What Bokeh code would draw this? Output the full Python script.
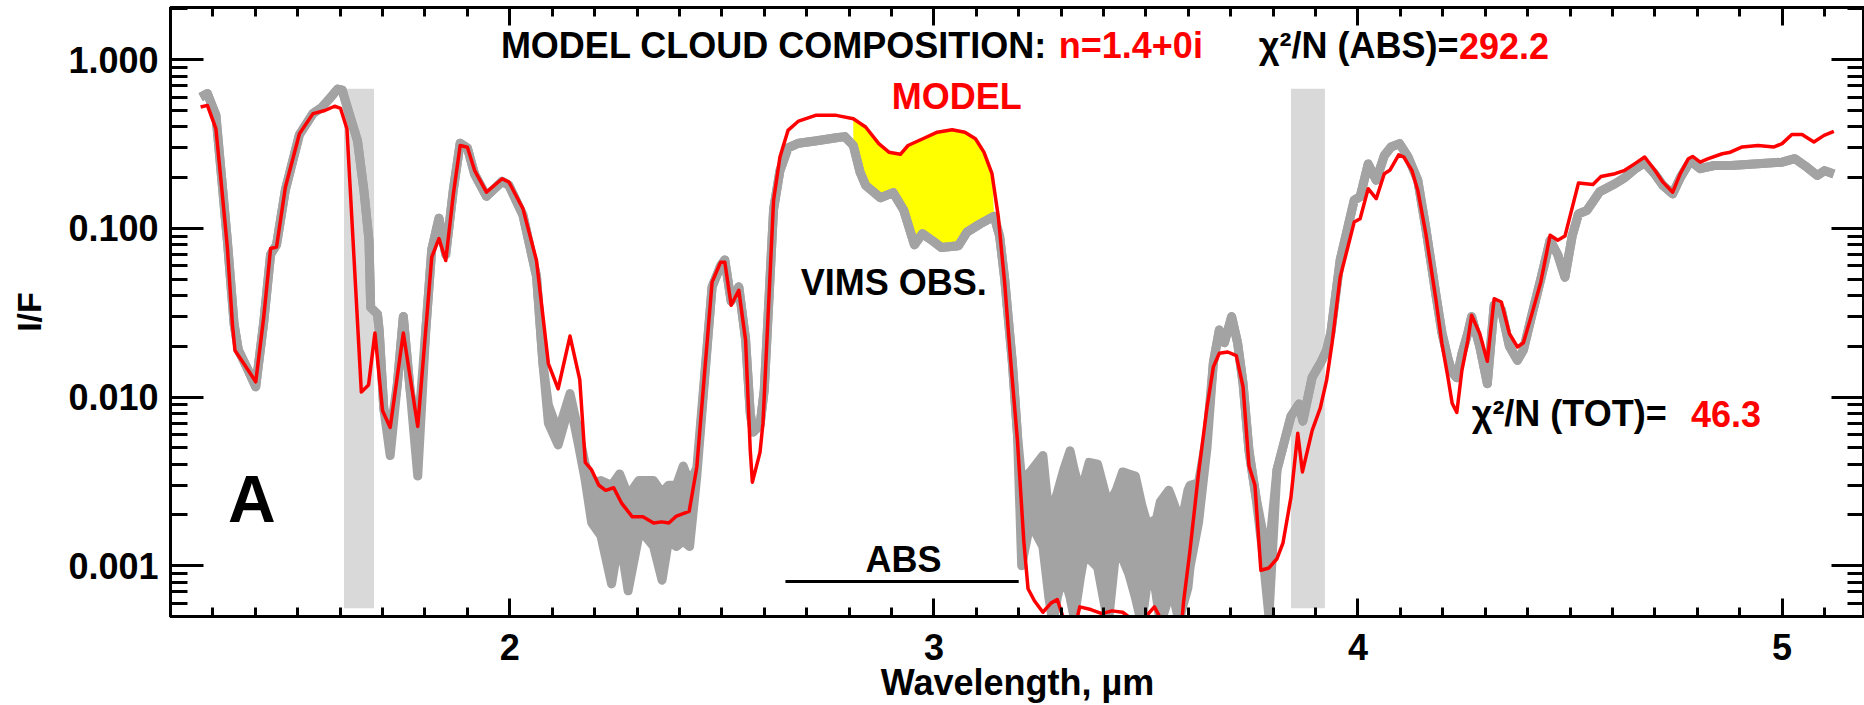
import numpy as np
from bokeh.plotting import figure
from bokeh.models import (Range1d, LinearAxis, LogAxis, FixedTicker,
                          CustomJSTickFormatter, Label)
from bokeh.embed import file_html
from bokeh.resources import INLINE

# ---------------- data ----------------
model_wl = [1.271, 1.287, 1.307, 1.319, 1.334, 1.346, 1.352, 1.375, 1.401, 1.420,
            1.436, 1.450, 1.471, 1.504, 1.536, 1.564, 1.587, 1.601, 1.616, 1.650,
            1.667, 1.682, 1.700, 1.718, 1.749, 1.783, 1.816, 1.833, 1.849, 1.867,
            1.883, 1.900, 1.917, 1.945, 1.982, 1.998, 2.031, 2.063, 2.091, 2.114,
            2.142, 2.165, 2.178, 2.193, 2.210, 2.226, 2.245, 2.264, 2.289, 2.314,
            2.339, 2.358, 2.375, 2.393, 2.423, 2.441, 2.477, 2.497, 2.507, 2.522,
            2.540, 2.556, 2.567, 2.572, 2.590, 2.597, 2.622, 2.637, 2.656, 2.681,
            2.721, 2.770, 2.810, 2.839, 2.870, 2.894, 2.921, 2.939, 2.974, 3.008,
            3.043, 3.073, 3.098, 3.118, 3.137, 3.152, 3.167, 3.181, 3.197, 3.212,
            3.222, 3.237, 3.257, 3.276, 3.291, 3.310, 3.336, 3.344, 3.370, 3.396,
            3.420, 3.445, 3.463, 3.500, 3.520, 3.536, 3.560, 3.584, 3.589, 3.603,
            3.624, 3.644, 3.659, 3.673, 3.693, 3.713, 3.729, 3.743, 3.757, 3.771,
            3.790, 3.809, 3.823, 3.842, 3.858, 3.869, 3.892, 3.911, 3.926, 3.939,
            3.958, 3.991, 4.005, 4.024, 4.043, 4.062, 4.075, 4.096, 4.108, 4.127,
            4.141, 4.160, 4.184, 4.198, 4.212, 4.222, 4.233, 4.245, 4.259, 4.268,
            4.287, 4.305, 4.321, 4.338, 4.357, 4.376, 4.390, 4.409, 4.431, 4.453,
            4.471, 4.488, 4.520, 4.554, 4.573, 4.606, 4.629, 4.653, 4.676, 4.700,
            4.719, 4.742, 4.760, 4.779, 4.789, 4.807, 4.826, 4.859, 4.878, 4.906,
            4.943, 4.981, 5.000, 5.023, 5.047, 5.075, 5.099, 5.122]
model_if = [0.524, 0.536, 0.39, 0.193, 0.0775, 0.027, 0.0189, 0.0155, 0.0123, 0.03,
            0.076, 0.0775, 0.176, 0.364, 0.479, 0.50, 0.53, 0.514, 0.39, 0.0107,
            0.0118, 0.024, 0.0083, 0.0066, 0.024, 0.0067, 0.0676, 0.087, 0.0645, 0.16,
            0.31, 0.303, 0.221, 0.164, 0.197, 0.188, 0.131, 0.0645, 0.0158, 0.0112,
            0.023, 0.0127, 0.0041, 0.0037, 0.0030, 0.0028, 0.0029, 0.00234, 0.00195, 0.00195,
            0.00179, 0.00182, 0.00179, 0.00197, 0.0021, 0.00385, 0.048, 0.063, 0.063, 0.035,
            0.043, 0.0217, 0.00483, 0.00313, 0.0047, 0.007, 0.1466, 0.265, 0.381, 0.433,
            0.468, 0.468, 0.447, 0.399, 0.318, 0.283, 0.275, 0.31, 0.34, 0.372,
            0.384, 0.372, 0.34, 0.283, 0.211, 0.1167, 0.047, 0.0165, 0.00553, 0.0014,
            0.00073, 0.00062, 0.00053, 0.0006, 0.00063, 0.00045, 0.00047, 0.00057, 0.00055, 0.00052,
            0.00054, 0.00053, 0.00049, 0.0005, 0.00057, 0.00048, 0.0004, 0.00045, 0.00062, 0.00118,
            0.00353, 0.0087, 0.0151, 0.0182, 0.0185, 0.0176, 0.0115, 0.0039, 0.0030, 0.00094,
            0.00097, 0.0011, 0.00136, 0.00255, 0.0061, 0.0036, 0.00635, 0.0086, 0.0126, 0.021,
            0.0514, 0.109, 0.114, 0.172, 0.15, 0.211, 0.221, 0.273, 0.265, 0.221,
            0.168, 0.093, 0.0374, 0.0207, 0.0131, 0.0092, 0.0081, 0.0144, 0.0217, 0.0305,
            0.0238, 0.0163, 0.0383, 0.0366, 0.0238, 0.0198, 0.021, 0.0305, 0.048, 0.091,
            0.085, 0.09, 0.186, 0.182, 0.203, 0.211, 0.221, 0.242, 0.265, 0.221,
            0.188, 0.164, 0.211, 0.259, 0.267, 0.247, 0.259, 0.277, 0.283, 0.304,
            0.31, 0.304, 0.318, 0.36, 0.36, 0.325, 0.356, 0.376]

obs_wl = [1.271, 1.287, 1.307, 1.319, 1.334, 1.350, 1.360, 1.380, 1.401, 1.420,
          1.436, 1.450, 1.471, 1.504, 1.536, 1.556, 1.578, 1.594, 1.605, 1.617,
          1.641, 1.656, 1.668, 1.672, 1.688, 1.692, 1.703, 1.718, 1.735, 1.749,
          1.765, 1.783, 1.802, 1.816, 1.833, 1.849, 1.867, 1.883, 1.900, 1.917,
          1.945, 1.982, 1.998, 2.031, 2.063, 2.078, 2.091, 2.114, 2.142, 2.162,
          2.178, 2.193, 2.215, 2.240, 2.259, 2.279, 2.304, 2.319, 2.339, 2.359,
          2.374, 2.393, 2.409, 2.424, 2.441, 2.477, 2.497, 2.507, 2.522, 2.540,
          2.556, 2.567, 2.574, 2.590, 2.600, 2.622, 2.637, 2.656, 2.681, 2.720,
          2.770, 2.790, 2.810, 2.826, 2.839, 2.874, 2.904, 2.929, 2.954, 2.973,
          2.998, 3.018, 3.058, 3.078, 3.108, 3.142, 3.155, 3.167, 3.185, 3.197,
          3.207, 3.227, 3.257, 3.271, 3.281, 3.291, 3.306, 3.321, 3.331, 3.346,
          3.356, 3.366, 3.386, 3.411, 3.430, 3.445, 3.460, 3.475, 3.490, 3.505,
          3.510, 3.525, 3.534, 3.554, 3.559, 3.579, 3.584, 3.599, 3.604, 3.624,
          3.644, 3.659, 3.673, 3.685, 3.702, 3.716, 3.729, 3.743, 3.759, 3.775,
          3.790, 3.809, 3.842, 3.861, 3.870, 3.892, 3.911, 3.926, 3.936, 3.958,
          3.991, 4.005, 4.024, 4.043, 4.062, 4.078, 4.098, 4.118, 4.141, 4.160,
          4.184, 4.198, 4.212, 4.222, 4.233, 4.245, 4.259, 4.268, 4.287, 4.305,
          4.321, 4.338, 4.357, 4.376, 4.390, 4.409, 4.431, 4.453, 4.471, 4.488,
          4.505, 4.520, 4.540, 4.570, 4.606, 4.629, 4.653, 4.676, 4.700, 4.719,
          4.742, 4.760, 4.779, 4.789, 4.807, 4.840, 4.880, 4.943, 5.000, 5.030,
          5.060, 5.083, 5.100, 5.122]
obs_lo = [0.60, 0.63, 0.47, 0.22, 0.085, 0.027, 0.019, 0.015, 0.0115, 0.028,
          0.070, 0.080, 0.170, 0.360, 0.480, 0.520, 0.600, 0.670, 0.660, 0.520,
          0.330, 0.168, 0.085, 0.034, 0.031, 0.025, 0.0085, 0.0045, 0.012, 0.030,
          0.011, 0.0034, 0.025, 0.075, 0.115, 0.070, 0.170, 0.320, 0.300, 0.210,
          0.155, 0.190, 0.180, 0.120, 0.052, 0.016, 0.0070, 0.0052, 0.0092, 0.0052,
          0.0032, 0.0018, 0.0015, 0.00078, 0.0015, 0.00071, 0.0015, 0.0015, 0.0013, 0.00082,
          0.0014, 0.0013, 0.0014, 0.0013, 0.0034, 0.045, 0.060, 0.065, 0.037, 0.045,
          0.022, 0.008, 0.0062, 0.0068, 0.011, 0.13, 0.22, 0.30, 0.32, 0.33,
          0.345, 0.350, 0.310, 0.215, 0.180, 0.152, 0.163, 0.128, 0.080, 0.093,
          0.084, 0.077, 0.079, 0.095, 0.106, 0.118, 0.090, 0.050, 0.016, 0.0060,
          0.0010, 0.0018, 0.0013, 0.00065, 0.00045, 0.00065, 0.00089, 0.00065, 0.00049, 0.00087,
          0.0012, 0.0011, 0.00098, 0.00045, 0.0013, 0.0011, 0.00089, 0.00065, 0.00045, 0.00087,
          0.0012, 0.00065, 0.00045, 0.00065, 0.00077, 0.00045, 0.00054, 0.00074, 0.00098, 0.0018,
          0.0050, 0.016, 0.025, 0.021, 0.030, 0.021, 0.012, 0.0048, 0.0026, 0.0012,
          0.0005, 0.0037, 0.0077, 0.0091, 0.0072, 0.0131, 0.0158, 0.019, 0.024, 0.065,
          0.147, 0.154, 0.241, 0.193, 0.27, 0.304, 0.318, 0.265, 0.193, 0.10,
          0.040, 0.024, 0.017, 0.014, 0.013, 0.018, 0.024, 0.030, 0.020, 0.012,
          0.035, 0.033, 0.020, 0.0165, 0.019, 0.030, 0.050, 0.085, 0.070, 0.0514,
          0.090, 0.122, 0.128, 0.165, 0.184, 0.200, 0.225, 0.245, 0.210, 0.180,
          0.160, 0.200, 0.240, 0.245, 0.226, 0.236, 0.236, 0.242, 0.247, 0.259,
          0.229, 0.206, 0.220, 0.210]
obs_hi = [0.60, 0.63, 0.47, 0.22, 0.085, 0.027, 0.019, 0.015, 0.0115, 0.028,
          0.070, 0.080, 0.170, 0.360, 0.480, 0.520, 0.600, 0.670, 0.660, 0.520,
          0.330, 0.168, 0.085, 0.034, 0.031, 0.025, 0.0085, 0.0060, 0.012, 0.030,
          0.011, 0.0060, 0.025, 0.075, 0.115, 0.070, 0.170, 0.320, 0.300, 0.210,
          0.155, 0.190, 0.180, 0.120, 0.052, 0.016, 0.0090, 0.0062, 0.0105, 0.0062,
          0.0040, 0.0031, 0.0032, 0.0030, 0.0035, 0.0026, 0.0032, 0.0032, 0.0032, 0.0027,
          0.0030, 0.0030, 0.0039, 0.0031, 0.0038, 0.045, 0.060, 0.065, 0.037, 0.045,
          0.022, 0.008, 0.0062, 0.0068, 0.011, 0.13, 0.22, 0.30, 0.32, 0.33,
          0.345, 0.350, 0.310, 0.215, 0.180, 0.152, 0.163, 0.128, 0.080, 0.093,
          0.084, 0.077, 0.079, 0.095, 0.106, 0.118, 0.090, 0.050, 0.016, 0.0060,
          0.0032, 0.0036, 0.0045, 0.0020, 0.0023, 0.0027, 0.0037, 0.0048, 0.0037, 0.0027,
          0.0033, 0.0041, 0.0040, 0.0023, 0.0028, 0.0036, 0.0035, 0.0034, 0.0023, 0.0017,
          0.0018, 0.0019, 0.0024, 0.0028, 0.0026, 0.0019, 0.0018, 0.0028, 0.0030, 0.0031,
          0.0060, 0.016, 0.025, 0.021, 0.030, 0.021, 0.012, 0.0048, 0.0026, 0.0016,
          0.0012, 0.0037, 0.0077, 0.0091, 0.0072, 0.0131, 0.0158, 0.019, 0.024, 0.065,
          0.147, 0.154, 0.241, 0.193, 0.27, 0.304, 0.318, 0.265, 0.193, 0.10,
          0.040, 0.024, 0.017, 0.014, 0.013, 0.018, 0.024, 0.030, 0.020, 0.012,
          0.035, 0.033, 0.020, 0.0165, 0.019, 0.030, 0.050, 0.085, 0.070, 0.0514,
          0.090, 0.122, 0.128, 0.165, 0.184, 0.200, 0.225, 0.245, 0.210, 0.180,
          0.160, 0.200, 0.240, 0.245, 0.226, 0.236, 0.236, 0.242, 0.247, 0.259,
          0.229, 0.206, 0.220, 0.210]

gap_bands = [(1.609, 1.680), (3.842, 3.922)]   # light grey masked intervals
gap_band_y = (0.00056, 0.673)
abs_range = (2.65, 3.20)
abs_level = 0.000807
yellow_range = (2.805, 3.150)

x_major = [2, 3, 4, 5]
x_minor = [round(1.2 + 0.1 * i, 1) for i in range(41)]
y_major = [0.001, 0.01, 0.1, 1.0]
y_minor = [k * 10.0 ** d for d in range(-4, 1) for k in range(2, 10)]

FONT = "Liberation Sans"
RED = "#ff0000"
GRAY = "#a3a3a3"
LIGHT = "#d9d9d9"

# ---------------- figure ----------------
p = figure(width=1864, height=705,
           x_range=Range1d(1.2, 5.1943), y_range=Range1d(0.0005, 2.04),
           y_axis_type="log", output_backend="svg", toolbar_location=None,
           min_border_left=170, min_border_right=0, min_border_top=7,
           min_border_bottom=89)
p.xgrid.visible = False
p.ygrid.visible = False
p.outline_line_color = "black"
p.outline_line_width = 3
p.background_fill_color = "white"
p.border_fill_color = "white"

# gap bands
for (a, b) in gap_bands:
    p.quad(left=a, right=b, bottom=gap_band_y[0], top=gap_band_y[1],
           fill_color=LIGHT, line_color=None)

# yellow difference area (model above observation)
mw = np.array(model_wl); mv = np.array(model_if)
ow = np.array(obs_wl); oh = np.array(obs_hi)
mm = (mw >= yellow_range[0]) & (mw <= yellow_range[1])
om = (ow >= yellow_range[0]) & (ow <= yellow_range[1])
p.patch(x=np.concatenate([mw[mm], ow[om][::-1]]),
        y=np.concatenate([mv[mm], oh[om][::-1]]),
        fill_color="#ffff00", line_color=None)

# observation band
p.varea(x=obs_wl, y1=obs_lo, y2=obs_hi, fill_color=GRAY)
p.line(obs_wl, obs_lo, line_color=GRAY, line_width=9, line_join="round")
p.line(obs_wl, obs_hi, line_color=GRAY, line_width=9, line_join="round")

# model
p.line(model_wl, model_if, line_color=RED, line_width=3.5, line_join="round")

# ABS bar
p.line(list(abs_range), [abs_level, abs_level], line_color="black", line_width=3)

# ---------------- axes ----------------
def style_axis(ax, tick_in, minor_in, labels=True, size="36px", standoff=14):
    ax.axis_line_width = 3
    ax.major_tick_line_width = 3
    ax.minor_tick_line_width = 3
    ax.major_tick_in = tick_in
    ax.major_tick_out = 0
    ax.minor_tick_in = minor_in
    ax.minor_tick_out = 0
    if labels:
        ax.major_label_text_font = FONT
        ax.major_label_text_font_style = "bold"
        ax.major_label_text_font_size = size
        ax.major_label_text_color = "black"
        ax.major_label_standoff = standoff
    else:
        ax.major_label_text_font_size = "1px"
        ax.major_label_standoff = 0
        ax.major_label_text_alpha = 0

xb = p.xaxis[0]
xb.ticker = FixedTicker(ticks=x_major, minor_ticks=x_minor)
xb.formatter = CustomJSTickFormatter(code="return tick.toFixed(0)")
style_axis(xb, 18, 9, standoff=17)
xb.axis_label = "Wavelength, \u00b5m"
xb.axis_label_text_font = FONT
xb.axis_label_text_font_style = "bold"
xb.axis_label_text_font_size = "36px"
xb.axis_label_text_color = "black"
xb.axis_label_standoff = -1

yl = p.yaxis[0]
yl.ticker = FixedTicker(ticks=y_major, minor_ticks=y_minor)
yl.formatter = CustomJSTickFormatter(code="return tick.toFixed(3)")
style_axis(yl, 33, 17, standoff=12)
yl.axis_label = "I/F"
yl.axis_label_text_font = FONT
yl.axis_label_text_font_style = "bold"
yl.axis_label_text_font_size = "34px"
yl.axis_label_text_color = "black"
yl.axis_label_standoff = 17

xt = LinearAxis(ticker=FixedTicker(ticks=x_major, minor_ticks=x_minor),
                formatter=CustomJSTickFormatter(code="return ''"))
style_axis(xt, 18, 9, labels=False)
p.add_layout(xt, "above")

yr = LogAxis(ticker=FixedTicker(ticks=y_major, minor_ticks=y_minor),
             formatter=CustomJSTickFormatter(code="return ''"))
style_axis(yr, 33, 17, labels=False)
p.add_layout(yr, "right")

# ---------------- texts (y = vertical centre of the text) ----------------
def lab(x, y, text, color="black", size="36px", align="left"):
    p.add_layout(Label(x=x, y=y, text=text, text_color=color, text_font=FONT,
                       text_font_style="bold", text_font_size=size,
                       text_align=align, text_baseline="middle"))

lab(1.979, 1.207, "MODEL CLOUD COMPOSITION: ")
lab(3.2945, 1.207, "n=1.4+0i", color=RED)
lab(3.766, 1.207, "\u03c7\u00b2/N (ABS)=")
lab(4.238, 1.207, "292.2", color=RED)
lab(3.054, 0.606, "MODEL", color=RED, align="center")
lab(2.686, 0.0479, "VIMS OBS.")
lab(2.839, 0.001084, "ABS")
lab(4.268, 0.00795, "\u03c7\u00b2/N (TOT)=")
lab(4.785, 0.00795, "46.3", color=RED)
lab(1.392, 0.00248, "A", size="66px", align="center")

open("out.html", "w").write(file_html(p, INLINE))
